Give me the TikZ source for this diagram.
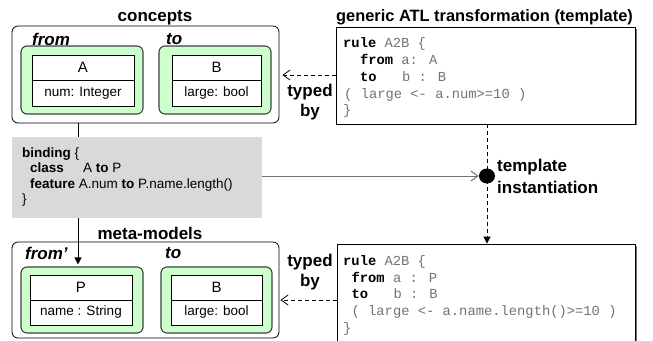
\documentclass[tikz,border=0pt]{standalone}
\usepackage{fontspec}
\setmainfont{Liberation Sans}
\newfontfamily\codefont{Liberation Mono}
\usetikzlibrary{arrows.meta,calc,shapes.geometric}
\definecolor{grn}{RGB}{204,255,204}
\definecolor{bindgray}{RGB}{217,217,217}
\definecolor{codegray}{RGB}{115,115,115}
\newcommand\kwd[1]{\textbf{\color{black}#1}}
\begin{document}
\begin{tikzpicture}[x=1pt,y=-1pt,
  outerbox/.style={draw=black, line width=0.8pt, rounded corners=6pt, fill=white, inner sep=0pt},
  greenbox/.style={draw=black!75, line width=1.1pt, rounded corners=6pt, fill=grn, inner sep=0pt},
  clsbox/.style={draw=black, line width=0.8pt, fill=white, inner sep=0pt},
  clsname/.style={clsbox, font=\fontsize{15}{18}\selectfont},
  clsattr/.style={clsbox, font=\fontsize{13.5}{16}\selectfont},
  codebox/.style={draw=black, line width=0.8pt, fill=white, inner sep=0pt},
  codeline/.style={anchor=base west, inner sep=0pt, text=codegray, font=\codefont\fontsize{13.8}{17}\selectfont},
  bindline/.style={anchor=base west, inner sep=0pt, font=\fontsize{13.5}{16}\selectfont},
  biglabel/.style={inner sep=0pt, font=\fontsize{17}{20}\selectfont\bfseries},
  rolelabel/.style={anchor=west, inner sep=0pt, font=\fontsize{17}{20}\selectfont\bfseries\itshape},
  dsh/.style={dash pattern=on 4pt off 3pt, line width=0.8pt},
  openhead/.style={-{Straight Barb[length=7pt,width=10pt]}},
  fillhead/.style={-{Triangle[length=7pt,width=7pt]}}
]
\useasboundingbox (0,0) rectangle (653,340);
\clip (0,0) rectangle (653,340);

% ---------------- concepts ----------------
\node[biglabel] (lconcepts) at (155,18) {concepts};
\node[outerbox, minimum width=267pt, minimum height=97pt] (concepts) at (145.5,74.5) {};
\node[rolelabel] (lfrom) at (32,39) {from};
\node[rolelabel] (lto) at (166,39) {to};
\node[greenbox, minimum width=122pt, minimum height=68pt] (gA) at (82,80) {};
\node[clsname, minimum width=102pt, minimum height=25pt] (Ah) at (83,67.5) {A};
\node[clsattr, minimum width=102pt, minimum height=26pt] (Aa) at (83,93) {num: Integer};
\node[greenbox, minimum width=112pt, minimum height=68pt] (gB) at (215,80) {};
\node[clsname, minimum width=89pt, minimum height=25pt] (Bh) at (216.5,67.5) {B};
\node[clsattr, minimum width=89pt, minimum height=26pt] (Ba) at (216.5,93) {large: bool};

% ---------------- meta-models ----------------
\node[biglabel] (lmeta) at (150,233) {meta-models};
\node[outerbox, minimum width=267pt, minimum height=96pt] (meta) at (145.5,290) {};
\node[rolelabel] (lfromp) at (25,253) {from’};
\node[rolelabel] (ltop) at (165,253) {to};
\node[greenbox, minimum width=122pt, minimum height=66pt] (gP) at (82,300) {};
\node[clsname, minimum width=102pt, minimum height=25pt] (Ph) at (81,287.5) {P};
\node[clsattr, minimum width=102pt, minimum height=25pt] (Pa) at (81,312.5) {name : String};
\node[greenbox, minimum width=111pt, minimum height=66pt] (gB2) at (216.5,300) {};
\node[clsname, minimum width=91pt, minimum height=25pt] (B2h) at (216.5,287.5) {B};
\node[clsattr, minimum width=91pt, minimum height=25pt] (B2a) at (216.5,312.5) {large: bool};

% ---------------- vertical line A -> P ----------------
\coordinate (lnA) at (78,123);
\draw[line width=0.8pt, fillhead, shorten >=2pt] (lnA) -- (lnA |- gP.north);

% ---------------- binding ----------------
\node[fill=bindgray, inner sep=0pt, minimum width=250pt, minimum height=81pt] (binding) at (137,177.5) {};
\node[bindline] (b1) at (22,157) {\textbf{binding} \{};
\node[bindline] (b2) at (30,172.5) {\makebox[53pt][l]{\textbf{class}}A \textbf{to} P};
\node[bindline] (b3) at (30,188) {\textbf{feature} A.num \textbf{to} P.name.length()};
\node[bindline] (b4) at (22,203.5) {\}};

% ---------------- code boxes ----------------
\node[biglabel, font=\fontsize{16.4}{20}\selectfont\bfseries] (ltitle) at (484.5,17) {generic ATL transformation (template)};
\draw[black!55, line width=1.6pt] (636.5,29) -- (636.5,125);
\node[codebox, minimum width=299pt, minimum height=97pt] (code1) at (485.5,75.5) {};
\node[codeline] (c11) at (343,47) {\kwd{rule} A2B \{};
\node[codeline] (c12) at (359.8,64) {\kwd{from} a: A};
\node[codeline] (c13) at (359.8,81) {\makebox[42pt][l]{\kwd{to}}b : B};
\node[codeline] (c14) at (344,98) {( large <- a.num>=10 )};
\node[codeline] (c15) at (343,114) {\}};

\draw[black!55, line width=1.6pt] (636.5,246) -- (636.5,345);
\node[codebox, minimum width=298pt, minimum height=106pt] (code2) at (486,297) {};
\node[codeline] (c21) at (343,265) {\kwd{rule} A2B \{};
\node[codeline] (c22) at (351.4,282) {\kwd{from} a : P};
\node[codeline] (c23) at (351.4,298.5) {\makebox[42pt][l]{\kwd{to}}b : B};
\node[codeline] (c24) at (351.4,315) {( large <- a.name.length()>=10 )};
\node[codeline] (c25) at (343,332) {\}};

% ---------------- typed by ----------------
\node[biglabel, align=center] (typed1) at (310,102) {typed\\by};
\node[biglabel, align=center] (typed2) at (310,272) {typed\\by};
\draw[dsh, openhead, shorten >=3pt] (code1.west |- 0,75) -- (concepts.east |- 0,75);
\draw[dsh, openhead, shorten >=1pt] (code2.west |- 0,300) -- (meta.east |- 0,300);

% ---------------- template instantiation ----------------
\coordinate (dc) at (487,176);
\draw[dsh, fillhead] (code1.south -| dc) -- (code2.north -| dc);
\node[fill=black, ellipse, inner sep=0pt, minimum width=16pt, minimum height=15pt] (dot) at (dc) {};
\draw[black!55, line width=1pt, openhead] (binding.east |- dot) -- (dot.west);
\node[biglabel, align=left, anchor=west, font=\fontsize{17}{22}\selectfont\bfseries] (tinst) at (497,176) {template\\instantiation};
\end{tikzpicture}
\end{document}
